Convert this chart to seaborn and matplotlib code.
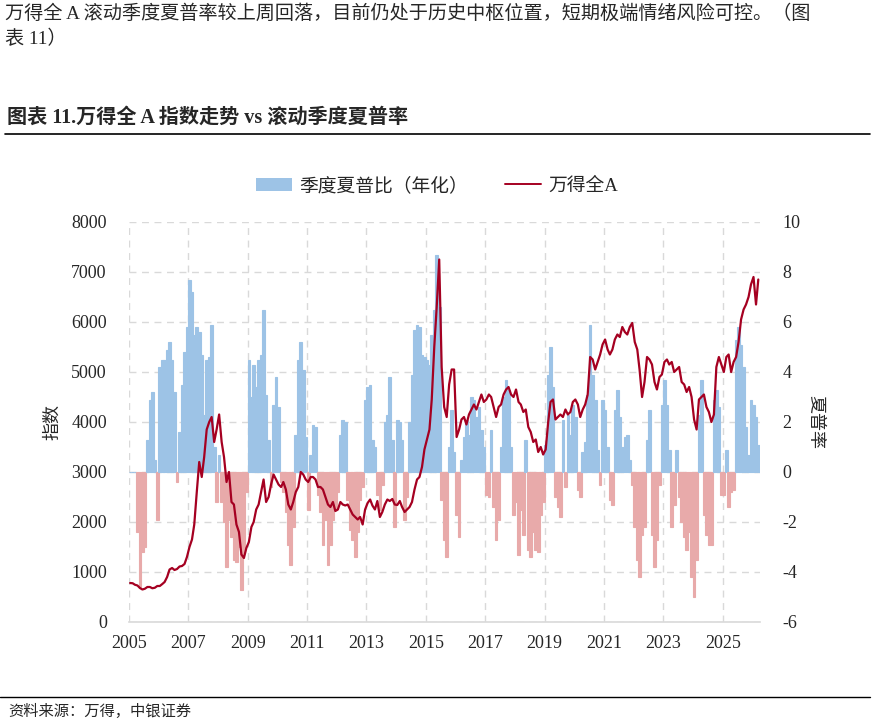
import numpy as np
import pandas as pd
import matplotlib
matplotlib.use('Agg')
import matplotlib.pyplot as plt
import matplotlib.dates as mdates
from matplotlib.patches import Patch
from matplotlib.lines import Line2D
import seaborn as sns

# monthly readings, Jan 2005 .. Mar 2026
months = pd.date_range('2005-01-01', periods=255, freq='MS') + pd.Timedelta(days=14)

wind_all_a = [
    780, 775, 745, 730, 680, 650, 665, 700, 700, 675, 685, 720,          # 2005
    720, 760, 800, 900, 1050, 1080, 1040, 1060, 1110, 1120, 1160, 1300,  # 2006
    1500, 1650, 1950, 2600, 3200, 2900, 3300, 3850, 4000, 4100, 3600, 3850,  # 2007
    4150, 3600, 3300, 2800, 3000, 2400, 2350, 1950, 1800, 1350, 1280, 1480,  # 2008
    1600, 1900, 2000, 2250, 2350, 2600, 2850, 2400, 2500, 2750, 2950, 2850,  # 2009
    2750, 2700, 2800, 2650, 2350, 2250, 2400, 2600, 2700, 3000, 2950, 2850,  # 2010
    2800, 2900, 2900, 2850, 2700, 2700, 2650, 2500, 2350, 2300, 2400, 2220,  # 2011
    2250, 2400, 2350, 2330, 2350, 2250, 2150, 2100, 2050, 2100, 1950, 2250,  # 2012
    2380, 2450, 2330, 2250, 2420, 2100, 2200, 2350, 2450, 2420, 2460, 2350,  # 2013
    2340, 2420, 2300, 2200, 2250, 2300, 2400, 2650, 2850, 2900, 3100, 3450,  # 2014
    3650, 3850, 4450, 5500, 6300, 7250, 5100, 4300, 4100, 4750, 5050, 5050,  # 2015
    3700, 3850, 4050, 4100, 3950, 4150, 4250, 4350, 4250, 4400, 4550, 4400,  # 2016
    4450, 4550, 4500, 4300, 4100, 4300, 4350, 4550, 4650, 4700, 4550, 4500,  # 2017
    4650, 4400, 4350, 4200, 4250, 3900, 3800, 3600, 3650, 3400, 3500, 3350,  # 2018
    3450, 4000, 4400, 4450, 4050, 4100, 4150, 4100, 4250, 4150, 4200, 4400,  # 2019
    4450, 4350, 4100, 4250, 4350, 4550, 5300, 5250, 5050, 5200, 5350, 5550,  # 2020
    5650, 5450, 5350, 5450, 5650, 5750, 5700, 5900, 5800, 5750, 5900, 5980,  # 2021
    5600, 5450, 5050, 4500, 4800, 5300, 5250, 5150, 4800, 4650, 4900, 4950,  # 2022
    5200, 5250, 5150, 5200, 5000, 5050, 5100, 4800, 4750, 4600, 4700, 4500,  # 2023
    4050, 3850, 4450, 4500, 4550, 4300, 4200, 4000, 4150, 5100, 5300, 5150,  # 2024
    5000, 5300, 5350, 5000, 5200, 5300, 5600, 6050, 6250, 6350, 6500, 6750,  # 2025
    6900, 6350, 6850,                                                    # 2026
]

sharpe = [
    0, 0, 0, -2.4, -4.6, -3.2, -3.0, 1.3, 2.9, 3.2, 0.5, -1.9,           # 2005
    4.2, 4.5, 4.5, 4.9, 5.2, 4.5, 3.2, -0.4, 1.6, 3.5, 4.8, 5.8,         # 2006
    7.7, 7.2, 5.5, 5.8, 5.6, 4.7, 2.3, 4.5, 4.6, 5.9, 1.0, -1.2,         # 2007
    0.7, -1.2, -2.0, -3.8, -1.9, -2.6, -3.5, -3.6, -3.0, -4.7, -3.2, -0.8,  # 2008
    4.5, 3.0, 4.3, 3.4, 4.5, 4.7, 6.5, 3.1, 1.3, -0.6, 2.7, 3.8,         # 2009
    2.6, -0.4, -0.8, -1.6, -2.9, -3.7, -2.2, 1.5, 4.5, 5.2, 4.1, 1.4,    # 2010
    -1.5, 0.7, 1.9, 1.8, -0.9, -1.6, -2.9, -1.9, -3.7, -2.9, -1.9, -1.5,  # 2011
    -0.8, 1.5, 2.1, 2.0, -1.1, -2.3, -2.7, -3.4, -2.4, -1.1, -0.6, 2.9,  # 2012
    3.4, 3.5, 1.3, 1.0, -0.9, -1.5, -0.5, 2.0, 2.3, 3.8, 1.3, -2.2,      # 2013
    2.1, 2.0, 1.3, -1.9, -1.0, 2.0, 3.9, 5.7, 5.9, 5.8, 4.7, 4.6,        # 2014
    4.5, 4.3, 5.5, 6.5, 8.7, 6.6, -1.1, -2.7, -3.4, 1.0, 2.5, 0.8,       # 2015
    -1.7, -2.6, 0.5, 1.4, 2.1, 1.5, 3.0, 2.9, 2.2, 2.6, 1.7, 1.0,        # 2016
    -0.9, -1.0, 1.7, -1.4, -2.7, -1.9, 1.0, 3.0, 3.7, 3.3, 1.0, -1.7,    # 2017
    -1.2, -3.3, -1.5, -2.5, 1.3, -3.1, -3.4, -2.4, -3.1, -3.2, -1.7, -1.2,  # 2018
    1.1, 3.9, 5.0, 3.4, -1.0, -1.4, -1.8, 2.1, -0.6, 2.3, 1.5, 2.7,      # 2019
    2.2, -0.7, -1.0, 0.8, 1.2, 3.1, 5.9, 3.9, 2.9, 0.9, -0.5, 2.9,       # 2020
    2.5, 1.0, -1.1, -1.3, 2.5, 3.3, 2.2, 1.0, 1.4, 1.5, 0.5, -0.5,       # 2021
    -2.2, -3.5, -4.2, -2.5, -2.2, 1.3, 2.5, -2.5, -3.8, -2.7, -0.5, 2.7,  # 2022
    3.7, 2.7, 0.9, -2.2, -1.3, 0.9, -1.0, -2.0, -2.6, -3.1, -2.4, -4.2,  # 2023
    -5.0, -3.5, 2.3, 3.7, -1.7, -2.5, -2.9, -2.9, 2.9, 3.3, 2.6, -0.9,   # 2024
    -0.9, 0.9, -1.4, -0.8, -0.7, 5.3, 5.8, 5.1, 4.2, 1.8, 0.7, 2.9,      # 2025
    2.7, 2.2, 1.1,                                                       # 2026
]

year_ticks = list(range(2005, 2027, 2))

df = pd.DataFrame({'date': months, 'index': wind_all_a, 'sharpe': sharpe})

BLUE = '#9DC3E6'
PINK = '#E8AAAA'
RED = '#A50021'
GRID = '#D9D9D9'

sns.set_style('white')
cjk = ['Liberation Serif', 'Noto Sans CJK SC', 'DejaVu Sans']
plt.rcParams['font.family'] = cjk
plt.rcParams['axes.unicode_minus'] = False

fig = plt.figure(figsize=(8.76, 7.23), dpi=100)
ax = fig.add_axes([129 / 876, 101 / 723, 631 / 876, 400 / 723])

# sharpe bars on the lower axes (scale shown on the right)
bar_colors = [BLUE if v >= 0 else PINK for v in df['sharpe']]
ax.bar(df['date'], df['sharpe'], width=33, color=bar_colors, edgecolor=bar_colors,
       linewidth=0.8, zorder=2)
ax.set_ylim(-6, 10)
ax.set_yticks(range(-6, 11, 2))
ax.set_axisbelow(True)
ax.grid(True, axis='both', color=GRID, linestyle=(0, (5, 4)), linewidth=1.0, zorder=0)

# index line on the twin axes (scale shown on the left)
ax2 = ax.twinx()
sns.lineplot(data=df, x='date', y='index', ax=ax2, color=RED, linewidth=1.6, zorder=3)
ax2.set_ylim(0, 8000)
ax2.set_yticks(range(0, 8001, 1000))
ax2.set_xlabel('')

# swap sides: index scale left, sharpe scale right
ax2.yaxis.tick_left()
ax2.yaxis.set_label_position('left')
ax.yaxis.tick_right()
ax.yaxis.set_label_position('right')
ax2.set_ylabel('指数', fontsize=13, labelpad=7, family=['Noto Sans CJK SC'])
ax.set_ylabel('夏普率', fontsize=13, rotation=270, labelpad=17, family=['Noto Sans CJK SC'])

ax.set_xlim(pd.Timestamp('2005-01-01'), pd.Timestamp('2026-04-05'))
ax.set_xticks([pd.Timestamp(f'{y}-01-01') for y in year_ticks])
ax.xaxis.set_major_formatter(mdates.DateFormatter('%Y'))

for a in (ax, ax2):
    for s in a.spines.values():
        s.set_visible(False)
ax.spines['bottom'].set_visible(True)
ax.spines['bottom'].set_color(GRID)
ax.spines['bottom'].set_linewidth(1.2)

ax.tick_params(axis='x', length=4, color=GRID, labelsize=13, pad=5)
ax.tick_params(axis='y', length=0, labelsize=13, pad=16)
ax2.tick_params(axis='y', length=0, labelsize=13, pad=16)
for lab in ax.get_xticklabels() + ax.get_yticklabels() + ax2.get_yticklabels():
    lab.set_family('Liberation Serif')

# legend
handles = [Patch(facecolor=BLUE, edgecolor='none'), Line2D([0], [0], color=RED, linewidth=1.4)]
fig.legend(handles, ['季度夏普比（年化）', '万得全A'], loc='center', ncol=2,
           bbox_to_anchor=(437 / 876, 1 - 186 / 723), frameon=False,
           prop={'family': cjk, 'size': 13.5}, handlelength=1.9, handleheight=0.75,
           handletextpad=0.4, columnspacing=2.0)

# page text
fig.text(5 / 876, 1 - 14 / 723,
         '万得全 A 滚动季度夏普率较上周回落，目前仍处于历史中枢位置，短期极端情绪风险可控。（图',
         fontsize=13.8, va='center', ha='left', family=cjk)
fig.text(5 / 876, 1 - 39 / 723, '表 11）', fontsize=13.8, va='center', ha='left', family=cjk)
fig.text(7 / 876, 1 - 118 / 723, '图表 11.万得全 A 指数走势 vs 滚动季度夏普率',
         fontsize=14.5, fontweight='bold', va='center', ha='left', family=cjk)
fig.add_artist(Line2D([5 / 876, 870 / 876], [1 - 134 / 723, 1 - 134 / 723],
                      color='black', linewidth=1.2, transform=fig.transFigure))
fig.add_artist(Line2D([0 / 876, 870 / 876], [1 - 697 / 723, 1 - 697 / 723],
                      color='black', linewidth=1.0, transform=fig.transFigure))
fig.text(8 / 876, 1 - 711 / 723, '资料来源：万得，中银证券', fontsize=11, va='center',
         ha='left', style='italic', family=cjk)

fig.savefig('out.png', dpi=100)
